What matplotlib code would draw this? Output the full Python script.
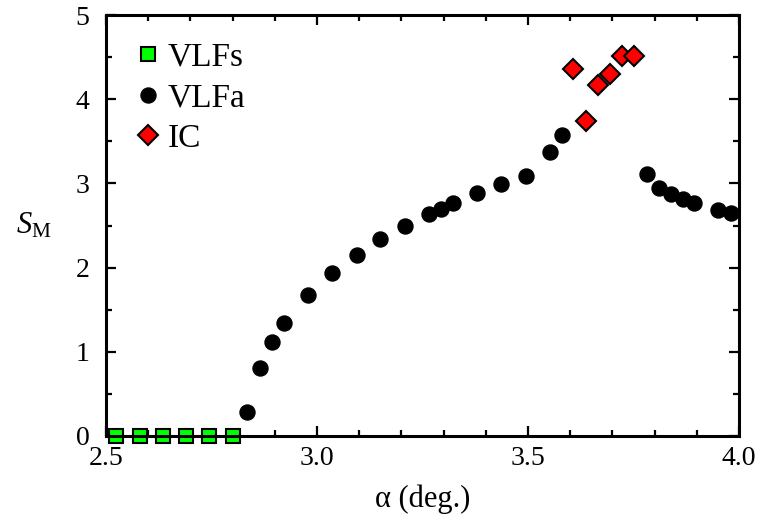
import matplotlib
matplotlib.use("Agg")
import matplotlib.pyplot as plt
from matplotlib.ticker import MultipleLocator

plt.rcParams['font.family'] = ['Liberation Serif', 'DejaVu Serif']
plt.rcParams['mathtext.fontset'] = 'custom'
plt.rcParams['mathtext.rm'] = 'Liberation Serif'
plt.rcParams['mathtext.it'] = 'Liberation Serif:italic'

# VLFs (squares, on the zero line)
vlfs_alpha = [2.525, 2.58, 2.635, 2.69, 2.745, 2.80]
vlfs_s = [0, 0, 0, 0, 0, 0]

# VLFa (black circles)
vlfa_alpha = [2.835, 2.865, 2.894, 2.922, 2.979, 3.036, 3.094, 3.150, 3.208,
              3.265, 3.293, 3.323, 3.379, 3.437, 3.495, 3.551, 3.580,
              3.781, 3.809, 3.839, 3.866, 3.894, 3.951, 3.980]
vlfa_s = [0.28, 0.81, 1.11, 1.34, 1.67, 1.93, 2.15, 2.34, 2.50,
          2.64, 2.70, 2.77, 2.89, 2.99, 3.09, 3.37, 3.57,
          3.11, 2.95, 2.87, 2.81, 2.77, 2.68, 2.65]

# IC (red diamonds)
ic_alpha = [3.607, 3.637, 3.665, 3.693, 3.723, 3.752]
ic_s = [4.36, 3.74, 4.17, 4.30, 4.52, 4.52]

fig = plt.figure(figsize=(7.62, 5.22), dpi=100)
ax = fig.add_axes([0.139, 0.165, 0.831, 0.806])

ax.plot(vlfs_alpha, vlfs_s, 's', ms=10.5, mfc='#00ff00', mec='black', mew=1.5,
        clip_on=False, zorder=2, label='VLFs')
ax.plot(vlfa_alpha, vlfa_s, 'o', ms=10.8, mfc='black', mec='black',
        clip_on=False, zorder=2, label='VLFa')
ax.plot(ic_alpha, ic_s, 'D', ms=10, mfc='red', mec='black', mew=1.5,
        clip_on=False, zorder=3, label='IC')

ax.set_xlim(2.5, 4.0)
ax.set_ylim(0, 5)
ax.xaxis.set_major_locator(MultipleLocator(0.5))
ax.xaxis.set_minor_locator(MultipleLocator(0.1))
ax.yaxis.set_major_locator(MultipleLocator(1))
ax.yaxis.set_minor_locator(MultipleLocator(0.5))
ax.xaxis.set_major_formatter(matplotlib.ticker.FormatStrFormatter('%.1f'))

for s in ax.spines.values():
    s.set_linewidth(2.2)
ax.tick_params(which='both', direction='in', top=True, right=True, width=1.6)
ax.tick_params(which='major', length=7, labelsize=20)
ax.tick_params(which='minor', length=4)
ax.tick_params(axis='x', which='major', pad=7)
ax.tick_params(axis='y', which='major', pad=12)

ax.set_xlabel(r'α (deg.)', fontsize=22, labelpad=10)
ax.set_ylabel(r'$S_{\mathrm{M}}$', fontsize=22, rotation=0, labelpad=30, va='center')

ax.legend(loc='upper left', bbox_to_anchor=(0.045, 0.935), frameon=False,
          fontsize=24, handlelength=0.8, handletextpad=0.2, borderpad=0,
          borderaxespad=0, labelspacing=0.3, markerscale=1.0)

fig.savefig('out.png', dpi=100)
